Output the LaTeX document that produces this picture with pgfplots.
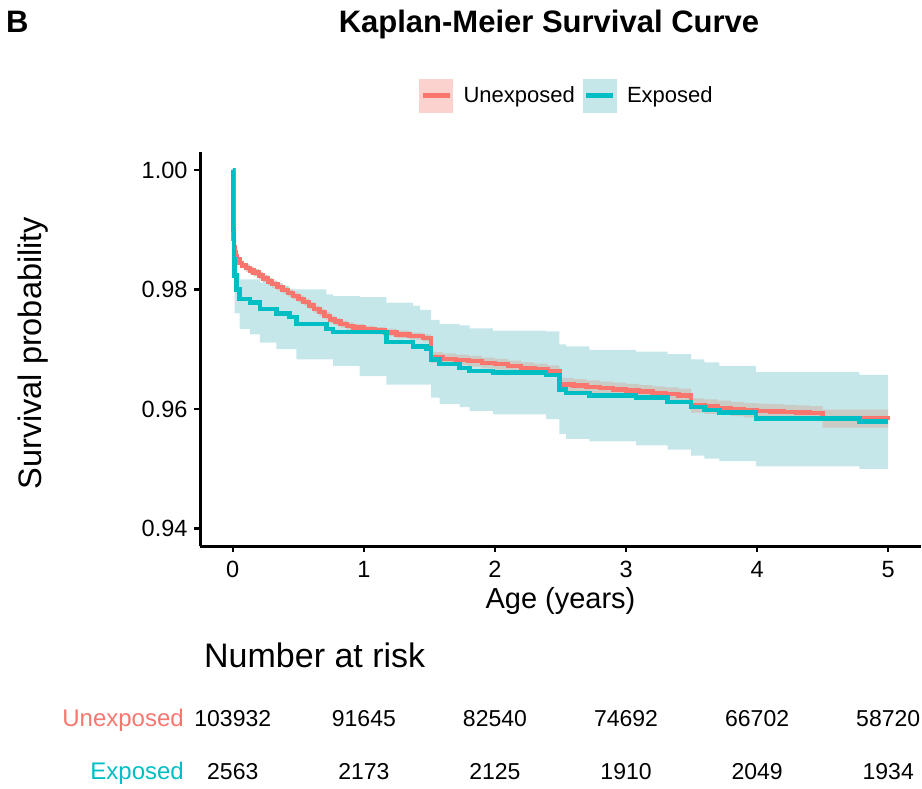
\documentclass[border=0pt]{standalone}
\usepackage{pgfplots}
\pgfplotsset{compat=1.18}
\usepgfplotslibrary{fillbetween}
\usepackage{fontspec}
\setmainfont{Liberation Sans}
\definecolor{kmred}{RGB}{248,118,109}
\definecolor{kmteal}{RGB}{0,191,196}
\definecolor{tealband}{RGB}{197,231,234}
\definecolor{redband}{RGB}{203,203,198}
\definecolor{redlegend}{RGB}{251,210,205}
\begin{document}
\begin{tikzpicture}
\begin{axis}[
  at={(200pt,242.5pt)}, anchor=south west,
  scale only axis, width=721pt, height=394.5pt,
  xmin=-0.25, xmax=5.25, ymin=0.937, ymax=1.003,
  axis x line*=bottom, axis y line*=left,
  x axis line style={-}, y axis line style={-},
  axis line style={line width=3pt, black},
  xtick={0,1,2,3,4,5}, ytick={0.94,0.96,0.98,1.00},
  yticklabels={0.94,0.96,0.98,1.00},
  tick align=outside, major tick length=6pt,
  tick style={line width=2.2pt, black},
  tick label style={font=\fontsize{23.5}{23.5}\selectfont, text=black},
  xticklabel style={yshift=-5pt},
  yticklabel style={xshift=-3pt},
  /pgf/number format/assume math mode=true,
  xlabel={Age (years)}, ylabel={Survival probability},
  xlabel style={font=\fontsize{29}{29}\selectfont, at={(axis description cs:0.5,-0.1584)}, anchor=base},
  ylabel style={font=\fontsize{32.5}{32.5}\selectfont, at={(axis description cs:-0.232,0.49)}, anchor=center, rotate=0},
  legend columns=2,
  legend style={draw=none, fill=none, font=\fontsize{22}{22}\selectfont,
    at={(axis description cs:0.509,1.1432)}, anchor=center,
    /tikz/every even column/.append style={column sep=6pt}},
  clip=true,
]
\addlegendimage{legend image code/.code={\fill[redlegend] (0pt,-16.5pt) rectangle (33pt,16.5pt); \draw[line width=4.5pt, kmred] (3pt,0pt) -- (30pt,0pt); \path[draw=none, fill=none] (0pt,0pt) rectangle (42pt,1pt);}}
\addlegendentry{Unexposed}
\addlegendimage{legend image code/.code={\fill[tealband] (0pt,-16.5pt) rectangle (33pt,16.5pt); \draw[line width=4.5pt, kmteal] (3pt,0pt) -- (30pt,0pt); \path[draw=none, fill=none] (0pt,0pt) rectangle (42pt,1pt);}}
\addlegendentry{Exposed}

% Exposed confidence band
\addplot[draw=none, const plot, name path=tu, forget plot] coordinates {
(0,1.0) (0.008,0.987) (0.015,0.9845) (0.03,0.9825) (0.053,0.9817) (0.206,0.9812)
(0.333,0.9806) (0.434,0.9800) (0.714,0.9792) (0.765,0.9789) (0.968,0.9787)
(1.171,0.9778) (1.374,0.9773) (1.430,0.9766) (1.514,0.9749) (1.578,0.9742)
(1.730,0.9740) (1.806,0.9735) (1.984,0.9731) (2.391,0.9730) (2.492,0.9708)
(2.543,0.9705) (2.721,0.9699) (3.077,0.9696) (3.318,0.9692) (3.496,0.9683)
(3.598,0.9678) (3.712,0.9672) (3.991,0.9662) (4.779,0.9657) (5.0,0.9657)};
\addplot[draw=none, const plot, name path=tl, forget plot] coordinates {
(0,1.0) (0.005,0.983) (0.015,0.976) (0.053,0.9734) (0.130,0.9725) (0.206,0.9711)
(0.333,0.9700) (0.485,0.9683) (0.765,0.9672) (0.968,0.9655) (1.171,0.9641)
(1.514,0.9619) (1.578,0.9608) (1.730,0.9603) (1.806,0.9597) (1.984,0.9591)
(2.391,0.9583) (2.492,0.9558) (2.543,0.9550) (2.721,0.9546) (3.077,0.9539)
(3.318,0.9532) (3.496,0.9522) (3.598,0.9517) (3.712,0.9513) (3.991,0.9504)
(4.779,0.9500) (5.0,0.9500)};
\addplot[tealband, forget plot] fill between[of=tu and tl];

% Unexposed confidence band
\addplot[draw=none, const plot, name path=ru, forget plot] coordinates {
(0,1.0) (0.005,0.9888) (0.01,0.9873) (0.015,0.9865) (0.02,0.9859) (0.03,0.9853)
(0.05,0.9847) (0.07,0.9843) (0.1,0.9842) (0.13,0.9838) (0.16,0.9834) (0.2,0.9829)
(0.23,0.9824) (0.27,0.9819) (0.3,0.9815) (0.34,0.9810) (0.38,0.9805) (0.42,0.9800)
(0.46,0.9795) (0.5,0.9790) (0.54,0.9785) (0.58,0.9779) (0.62,0.9773) (0.66,0.9768)
(0.7,0.9762) (0.74,0.9756) (0.78,0.9752) (0.82,0.9748) (0.87,0.9745) (0.92,0.9742)
(1.0,0.9739) (1.08,0.9737) (1.16,0.9734) (1.25,0.9731) (1.35,0.9728) (1.45,0.9725)
(1.514,0.9695) (1.6,0.9693) (1.7,0.9691) (1.8,0.9689) (1.9,0.9686) (2.0,0.9684)
(2.1,0.9681) (2.2,0.9678) (2.3,0.9676) (2.4,0.9673) (2.492,0.9652) (2.6,0.9650)
(2.7,0.9648) (2.8,0.9646) (2.9,0.9644) (3.0,0.9642) (3.1,0.9640) (3.2,0.9638)
(3.3,0.9636) (3.4,0.9634) (3.496,0.9618) (3.6,0.9616) (3.7,0.9614) (3.8,0.9612)
(3.9,0.9610) (4.0,0.9609) (4.1,0.9608) (4.2,0.9607) (4.3,0.9606) (4.4,0.9605)
(4.5,0.9599) (5.0,0.9598)};
\addplot[draw=none, const plot, name path=rl, forget plot] coordinates {
(0,1.0) (0.005,0.9882) (0.01,0.9867) (0.015,0.9859) (0.02,0.9853) (0.03,0.9847)
(0.05,0.9841) (0.07,0.9837) (0.1,0.9830) (0.13,0.9826) (0.16,0.9822) (0.2,0.9817)
(0.23,0.9812) (0.27,0.9807) (0.3,0.9803) (0.34,0.9798) (0.38,0.9793) (0.42,0.9788)
(0.46,0.9783) (0.5,0.9778) (0.54,0.9773) (0.58,0.9767) (0.62,0.9761) (0.66,0.9756)
(0.7,0.9750) (0.74,0.9744) (0.78,0.9740) (0.82,0.9736) (0.87,0.9733) (0.92,0.9730)
(1.0,0.9727) (1.08,0.9725) (1.16,0.9722) (1.25,0.9719) (1.35,0.9716) (1.45,0.9713)
(1.514,0.9677) (1.6,0.9675) (1.7,0.9673) (1.8,0.9671) (1.9,0.9668) (2.0,0.9666)
(2.1,0.9663) (2.2,0.9660) (2.3,0.9658) (2.4,0.9655) (2.492,0.9630) (2.6,0.9628)
(2.7,0.9626) (2.8,0.9624) (2.9,0.9622) (3.0,0.9620) (3.1,0.9618) (3.2,0.9616)
(3.3,0.9614) (3.4,0.9612) (3.496,0.9594) (3.6,0.9592) (3.7,0.9590) (3.8,0.9588)
(3.9,0.9586) (4.0,0.9585) (4.1,0.9584) (4.2,0.9583) (4.3,0.9582) (4.4,0.9581)
(4.5,0.9569) (5.0,0.9568)};
\addplot[redband, forget plot] fill between[of=ru and rl];

% Unexposed curve
\addplot[kmred, line width=4.5pt, const plot, forget plot] coordinates {
(0,1.0) (0.005,0.9885) (0.01,0.9870) (0.015,0.9862) (0.02,0.9856) (0.03,0.9850)
(0.05,0.9844) (0.07,0.9840) (0.1,0.9836) (0.13,0.9832) (0.16,0.9828) (0.2,0.9823)
(0.23,0.9818) (0.27,0.9813) (0.3,0.9809) (0.34,0.9804) (0.38,0.9799) (0.42,0.9794)
(0.46,0.9789) (0.5,0.9784) (0.54,0.9779) (0.58,0.9773) (0.62,0.9767) (0.66,0.9762)
(0.7,0.9756) (0.74,0.9750) (0.78,0.9746) (0.82,0.9742) (0.87,0.9739) (0.92,0.9736)
(1.0,0.9733) (1.08,0.9731) (1.16,0.9728) (1.25,0.9725) (1.35,0.9722) (1.45,0.9719)
(1.514,0.9686) (1.6,0.9684) (1.7,0.9682) (1.8,0.9680) (1.9,0.9677) (2.0,0.9675)
(2.1,0.9672) (2.2,0.9669) (2.3,0.9667) (2.4,0.9664) (2.492,0.9641) (2.6,0.9639)
(2.7,0.9637) (2.8,0.9635) (2.9,0.9633) (3.0,0.9631) (3.1,0.9629) (3.2,0.9627)
(3.3,0.9625) (3.4,0.9623) (3.496,0.9606) (3.6,0.9604) (3.7,0.9602) (3.8,0.9600)
(3.9,0.9598) (4.0,0.9597) (4.1,0.9596) (4.2,0.9595) (4.3,0.9594) (4.4,0.9593)
(4.5,0.9584) (5.0,0.9583)};

% Exposed curve
\addplot[kmteal, line width=4.5pt, const plot, forget plot] coordinates {
(0,1.0) (0.003,0.990) (0.008,0.985) (0.015,0.9823) (0.03,0.9800) (0.053,0.9784)
(0.130,0.9778) (0.206,0.9767) (0.333,0.9760) (0.434,0.9754) (0.485,0.9742)
(0.714,0.9734) (0.765,0.9729) (1.171,0.9712) (1.374,0.9705) (1.476,0.9701)
(1.514,0.9683) (1.578,0.9675) (1.730,0.9669) (1.806,0.9664) (1.984,0.9661)
(2.391,0.9657) (2.492,0.9633) (2.543,0.9627) (2.721,0.9623) (3.077,0.9619)
(3.318,0.9612) (3.496,0.9603) (3.598,0.9598) (3.712,0.9594) (3.991,0.9584)
(4.779,0.9579) (5.0,0.9579)};
\end{axis}

% Risk table
\begin{axis}[
  at={(200pt,0pt)}, anchor=south west,
  scale only axis, width=721pt, height=100pt,
  xmin=-0.25, xmax=5.25, ymin=0, ymax=100,
  hide axis, clip=false,
]
\addplot[draw=none, forget plot] coordinates {(0,0) (5,0)};
\node[anchor=base, font=\fontsize{23}{23}\selectfont] at (axis cs:0,62) {103932};
\node[anchor=base, font=\fontsize{23}{23}\selectfont] at (axis cs:1,62) {91645};
\node[anchor=base, font=\fontsize{23}{23}\selectfont] at (axis cs:2,62) {82540};
\node[anchor=base, font=\fontsize{23}{23}\selectfont] at (axis cs:3,62) {74692};
\node[anchor=base, font=\fontsize{23}{23}\selectfont] at (axis cs:4,62) {66702};
\node[anchor=base, font=\fontsize{23}{23}\selectfont] at (axis cs:5,62) {58720};
\node[anchor=base, font=\fontsize{23}{23}\selectfont] at (axis cs:0,9) {2563};
\node[anchor=base, font=\fontsize{23}{23}\selectfont] at (axis cs:1,9) {2173};
\node[anchor=base, font=\fontsize{23}{23}\selectfont] at (axis cs:2,9) {2125};
\node[anchor=base, font=\fontsize{23}{23}\selectfont] at (axis cs:3,9) {1910};
\node[anchor=base, font=\fontsize{23}{23}\selectfont] at (axis cs:4,9) {2049};
\node[anchor=base, font=\fontsize{23}{23}\selectfont] at (axis cs:5,9) {1934};
\end{axis}

\node[anchor=base east, text=kmred, font=\fontsize{24}{24}\selectfont, inner sep=0pt] at (184pt,62pt) {Unexposed};
\node[anchor=base east, text=kmteal, font=\fontsize{24}{24}\selectfont, inner sep=0pt] at (184pt,9pt) {Exposed};
\node[anchor=base west, font=\fontsize{34}{34}\selectfont, inner sep=0pt] at (204pt,121pt) {Number at risk};
\node[anchor=base, font=\bfseries\fontsize{31}{31}\selectfont, inner sep=0pt] at (549pt,756pt) {Kaplan-Meier Survival Curve};
\node[anchor=base west, font=\bfseries\fontsize{31}{31}\selectfont, inner sep=0pt] at (6pt,756pt) {B};
\pgfresetboundingbox
\useasboundingbox (0pt,0pt) rectangle (922pt,789pt);
\end{tikzpicture}
\end{document}
